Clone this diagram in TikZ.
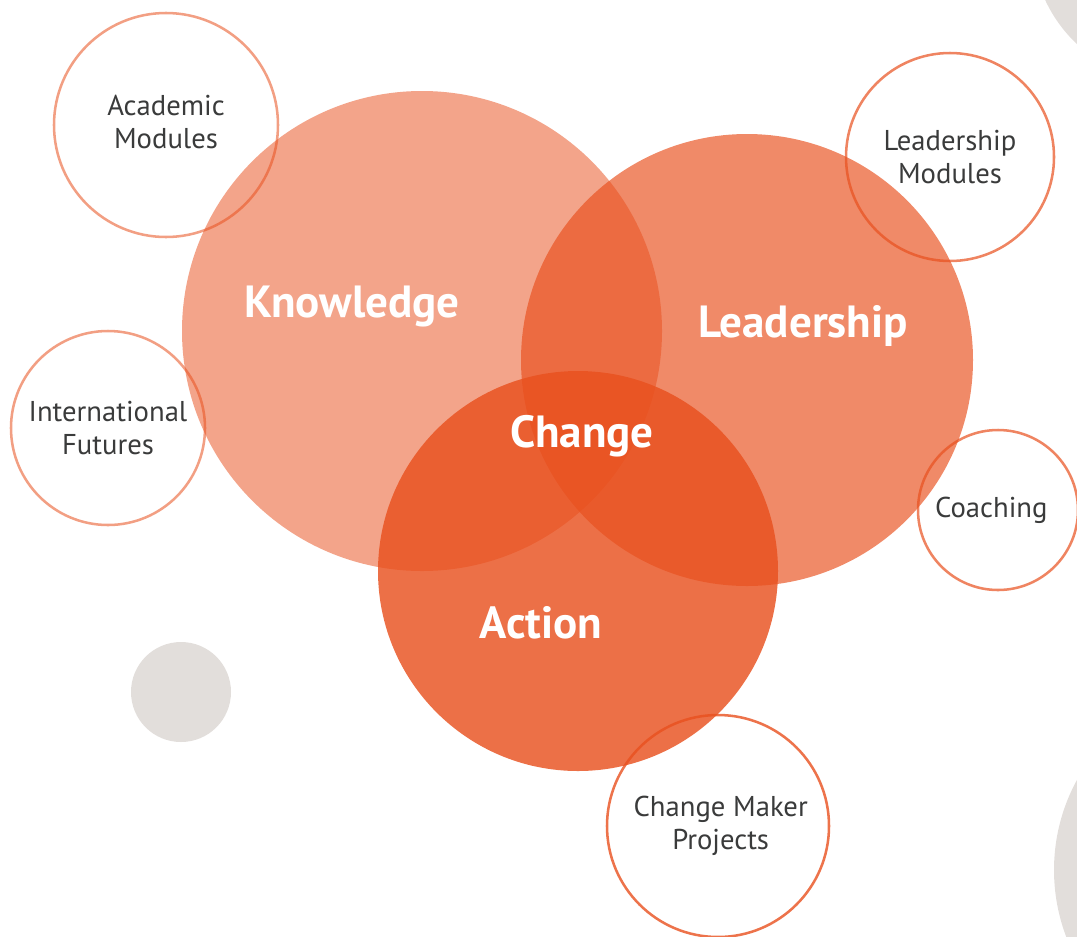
\documentclass[tikz,border=0pt]{standalone}
\usepackage{fontspec}
\setmainfont{PT Sans}
\definecolor{vennorange}{HTML}{E8501E}
\definecolor{dotgrey}{HTML}{E2DEDB}
\definecolor{textgrey}{HTML}{3A3B3B}
\tikzset{
	venn/.style={fill=vennorange,fill opacity=#1},
	ring/.style={circle,draw=vennorange,draw opacity=#1,line width=1.9pt,inner sep=0pt,
		align=center,text=textgrey,font=\fontsize{21.5}{24.5}\selectfont},
	vennlabel/.style={text=white,font=\fontsize{33.8}{40}\selectfont\bfseries},
}
\begin{document}
\begin{tikzpicture}[x=0.75pt,y=-0.75pt]
	\clip (0,0) rectangle (1077,936);

	\coordinate (know) at (422,331);
	\coordinate (lead) at (747,360);
	\coordinate (act) at (578,571);

	% grey dots
	\fill[dotgrey] (181,692) circle (50);
	\fill[dotgrey] (1175,-60) circle (143);
	\fill[dotgrey] (1242,870) circle (188);

	% the three big circles
	\fill[venn=0.52] (know) circle (240);
	\fill[venn=0.67] (lead) circle (226);
	\fill[venn=0.82] (act) circle (200);

	\node[vennlabel] (knowlabel) at (352,306) {Knowledge};
	\node[vennlabel] (leadlabel) at (803,326) {Leadership};
	\node[vennlabel] (changelabel) at (582,436) {Change};
	\node[vennlabel] (actlabel) at (541,623) {Action};

	% outer rings
	\node[ring=0.55,minimum size=168pt] (academic) at (166,125) {Academic\\Modules\vphantom{g}};
	\node[ring=0.55,minimum size=145.5pt] (futures) at (108,428) {International\\Futures};
	\node[ring=0.7,minimum size=156pt] (leadmod) at (950,157) {Leadership\\Modules};
	\node[ring=0.7,minimum size=120pt] (coaching) at (998,510) {\hspace*{-10pt}Coaching};
	\node[ring=0.8,minimum size=166.5pt] (maker) at (718,826) {\hspace*{4pt}Change Maker\\\hspace*{4pt}Projects};
\end{tikzpicture}
\end{document}
